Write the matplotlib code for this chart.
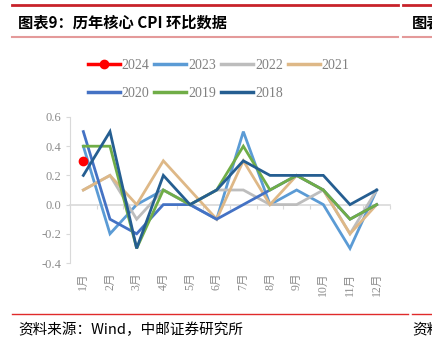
import numpy as np
import matplotlib
matplotlib.use("Agg")
import matplotlib.pyplot as plt
from matplotlib.lines import Line2D

plt.rcParams['font.family'] = ['Liberation Serif', 'Noto Sans CJK SC', 'DejaVu Sans']

months = ['1月', '2月', '3月', '4月', '5月', '6月', '7月', '8月', '9月', '10月', '11月', '12月']
years = ['2024', '2023', '2022', '2021', '2020', '2019', '2018']

v2024 = [0.3]
v2023 = [0.4, -0.2, 0.0, 0.1, 0.0, -0.1, 0.5, 0.0, 0.1, 0.0, -0.3, 0.1]
v2022 = [0.1, 0.2, -0.1, 0.1, 0.0, 0.1, 0.1, 0.0, 0.0, 0.1, -0.2, 0.1]
v2021 = [0.1, 0.2, 0.0, 0.3, 0.1, -0.1, 0.3, 0.0, 0.2, 0.1, -0.2, 0.0]
v2020 = [0.5, -0.1, -0.2, 0.0, 0.0, -0.1, 0.0, 0.1, 0.2, 0.1, -0.1, 0.0]
v2019 = [0.4, 0.4, -0.3, 0.1, 0.0, 0.1, 0.4, 0.1, 0.2, 0.1, -0.1, 0.0]
v2018 = [0.2, 0.5, -0.3, 0.2, 0.0, 0.1, 0.3, 0.2, 0.2, 0.2, 0.0, 0.1]

colors = {'2024': '#FF0000', '2023': '#5B9BD5', '2022': '#BDBDBD', '2021': '#DEB887',
          '2020': '#4472C4', '2019': '#70AD47', '2018': '#255E91'}
series = {'2023': v2023, '2022': v2022, '2021': v2021, '2020': v2020,
          '2019': v2019, '2018': v2018}

fig = plt.figure(figsize=(4.32, 3.6), dpi=100)
ax = fig.add_axes([70 / 432, 1 - 263 / 360, 320 / 432, 146 / 360])

x = np.arange(1, 13)
for yr in ['2023', '2022', '2021', '2020', '2019', '2018']:
    ax.plot(x, series[yr], color=colors[yr], lw=2.0, solid_joinstyle='miter')
ax.plot(x[:len(v2024)], v2024, color=colors['2024'], marker='o', ms=6, lw=0, zorder=5)

ax.set_xlim(0.5, 12.5)
ax.set_ylim(-0.4, 0.6)
ax.set_yticks([-0.4, -0.2, 0.0, 0.2, 0.4, 0.6])
ax.set_yticklabels(['%.1f' % t for t in [-0.4, -0.2, 0.0, 0.2, 0.4, 0.6]])
ax.set_xticks(x)
ax.set_xticklabels(months, rotation=90, va='top')
ax.tick_params(axis='x', length=0, pad=7, labelsize=8.5, labelcolor='#8C8C8C')
ax.tick_params(axis='y', length=3, color='#D9D9D9', labelsize=9, labelcolor='#8C8C8C', pad=3)
for s in ['top', 'right', 'bottom']:
    ax.spines[s].set_visible(False)
ax.spines['left'].set_color('#D9D9D9')

# zero axis with boundary ticks
sec = ax.secondary_xaxis(0.4)
sec.set_xticks(np.arange(0.5, 13, 1))
sec.set_xticklabels([])
sec.tick_params(length=3, color='#D9D9D9')
sec.spines['bottom'].set_color('#D9D9D9')
sec.spines['bottom'].set_linewidth(1.2)

# legend
handles = {yr: Line2D([], [], color=colors[yr], lw=2.5) for yr in years}
handles['2024'] = Line2D([], [], color=colors['2024'], lw=2.5, marker='o', ms=6)
order = ['2024', '2020', '2023', '2019', '2022', '2018', '2021']
fig.legend([handles[k] for k in order], order, ncol=4, frameon=False,
           loc='upper left', bbox_to_anchor=(82 / 432, 1 - 53 / 360),
           handlelength=2.3, handletextpad=0.15, columnspacing=0.35,
           labelspacing=1.1, prop={'size': 10, 'family': ['Liberation Serif']},
           labelcolor='#808080', borderaxespad=0)

# header / footer decoration
cjk = ['Noto Sans CJK SC', 'DejaVu Sans']
fig.text(18 / 432, 1 - 22 / 360, '图表9：历年核心 CPI 环比数据', fontsize=11,
         fontweight='bold', family=cjk, va='center', ha='left')
fig.text(412 / 432, 1 - 22 / 360, '图表10：', fontsize=11,
         fontweight='bold', family=cjk, va='center', ha='left')
fig.text(18 / 432, 1 - 330 / 360, '资料来源：Wind，中邮证券研究所', fontsize=10.5,
         family=cjk, va='center', ha='left')
fig.text(412 / 432, 1 - 330 / 360, '资料来源', fontsize=10.5,
         family=cjk, va='center', ha='left')

fig.add_artist(Line2D([12 / 432, 398 / 432], [1 - 5 / 360] * 2, color='#C8222A', lw=2))
fig.add_artist(Line2D([403 / 432, 1], [1 - 5 / 360] * 2, color='#C8222A', lw=2))
fig.add_artist(Line2D([12 / 432, 398 / 432], [1 - 37 / 360] * 2, color='#E49A9A', lw=1.5))
fig.add_artist(Line2D([403 / 432, 1], [1 - 37 / 360] * 2, color='#E49A9A', lw=1.5))
fig.add_artist(Line2D([12 / 432, 408 / 432], [1 - 314 / 360] * 2, color='#E02A2A', lw=1))
fig.add_artist(Line2D([412 / 432, 1], [1 - 314 / 360] * 2, color='#E02A2A', lw=1))

fig.savefig('out.png', dpi=100)
